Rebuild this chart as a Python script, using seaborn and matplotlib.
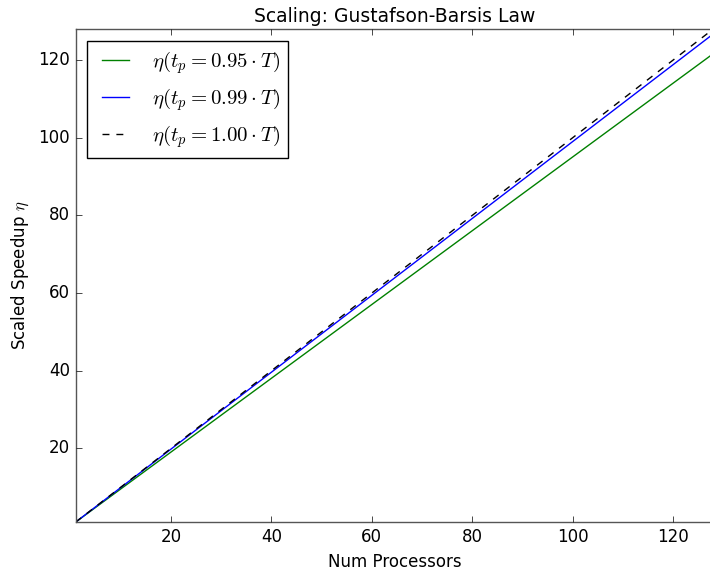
import matplotlib
matplotlib.use("Agg")
import matplotlib.pyplot as plt
import seaborn as sns
import pandas as pd

# Data (straight lines, endpoints)
num_processors = [1, 128]
speedup_095 = [1.0, 121.65]
speedup_099 = [1.0, 126.73]
speedup_100 = [1.0, 128.0]
labels = [r"$\eta(t_p = 0.95\cdot T)$",
          r"$\eta(t_p = 0.99\cdot T)$",
          r"$\eta(t_p = 1.00\cdot T)$"]

plt.style.use("classic")
plt.rcParams["mathtext.fontset"] = "cm"
plt.rcParams["font.family"] = ["DejaVu Sans"]

df = pd.concat([
    pd.DataFrame({"N": num_processors, "S": speedup_095, "series": labels[0]}),
    pd.DataFrame({"N": num_processors, "S": speedup_099, "series": labels[1]}),
    pd.DataFrame({"N": num_processors, "S": speedup_100, "series": labels[2]}),
])

fig = plt.figure(figsize=(7.1, 5.7), dpi=100, facecolor="white")
ax = fig.add_axes([0.1065, 0.084, 0.898, 0.865])
palette = {labels[0]: (0, 0.5, 0), labels[1]: (0, 0, 1), labels[2]: (0, 0, 0)}
dashes = {labels[0]: "", labels[1]: "", labels[2]: (5, 5)}
sns.lineplot(data=df, x="N", y="S", hue="series", style="series",
             palette=palette, dashes=dashes, ax=ax, linewidth=1.0, legend=True)
ax.set_xlim(1, 128)
ax.set_ylim(1, 128)
ax.set_xticks([20, 40, 60, 80, 100, 120])
ax.set_yticks([20, 40, 60, 80, 100, 120])
ax.set_xlabel("Num Processors", fontsize=12)
ax.set_ylabel(r"Scaled Speedup $\eta$", fontsize=12)
ax.set_title("Scaling: Gustafson-Barsis Law", fontsize=13.5)
ax.tick_params(labelsize=12)
ax.tick_params(axis="y", right=False)
leg = ax.legend(loc="upper left", fontsize=15, handlelength=1.9, frameon=True,
                borderaxespad=0.55)
leg.get_frame().set_edgecolor("black")
leg.get_frame().set_linewidth(1.0)
for s in ax.spines.values():
    s.set_color("#555555")
ax.spines["right"].set_visible(False)
fig.savefig("out.png", dpi=100, facecolor="white")
